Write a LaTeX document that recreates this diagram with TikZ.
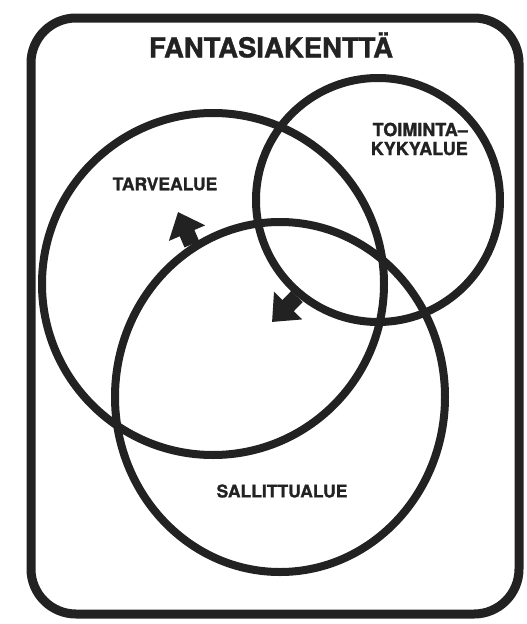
\documentclass[tikz,border=0pt]{standalone}
\usepackage{fontspec}
\setmainfont{TeX Gyre Heros}[BoldFeatures={FakeBold=1.2}]
\usetikzlibrary{shapes.geometric,arrows.meta}
\definecolor{ink}{RGB}{34,34,34}
\begin{document}
\begin{tikzpicture}[x=1pt,y=-1pt,
  ring/.style={draw=ink, line width=8pt, inner sep=0pt},
  lbl/.style={font=\bfseries\fontsize{17.5}{19}\selectfont, text=ink, inner sep=0pt},
  fatarrow/.style={draw=ink, fill=ink, line width=16pt, -{Triangle[width=38pt,length=23pt]}}]
\fill[white] (0,0) rectangle (527,624);
\useasboundingbox (0,0) rectangle (527,624);
% frame
\node[ring, line width=9pt, rectangle, rounded corners=45pt,
      minimum width=488pt, minimum height=596pt] (frame) at (275,316) {};
% circles
\node[ring, circle, minimum size=342pt] (tarve) at (213,284) {};
\node[ring, circle, minimum size=244pt] (toim) at (378,200) {};
\node[ring, ellipse, minimum width=330pt, minimum height=350pt] (salli) at (280,397) {};
% labels
\node[lbl, font=\bfseries\fontsize{27.5}{30}\selectfont] (title) at (271,45) {FANTASIAKENTTÄ};
\node[lbl] (ltarve) at (165,184) {TARVEALUE};
\node[lbl, font=\bfseries\fontsize{18}{19}\selectfont, align=right, anchor=east] (ltoim) at (468,139) {TOIMINTA–\\KYKYALUE};
\node[lbl] (lsalli) at (282,491) {SALLITTUALUE};
% arrows
\coordinate (tip1) at (178,212);
\coordinate (tip2) at (272,322);
\draw[fatarrow] (salli.120) -- (tip1);
\draw[fatarrow] (toim.230) -- (tip2);
\end{tikzpicture}
\end{document}
